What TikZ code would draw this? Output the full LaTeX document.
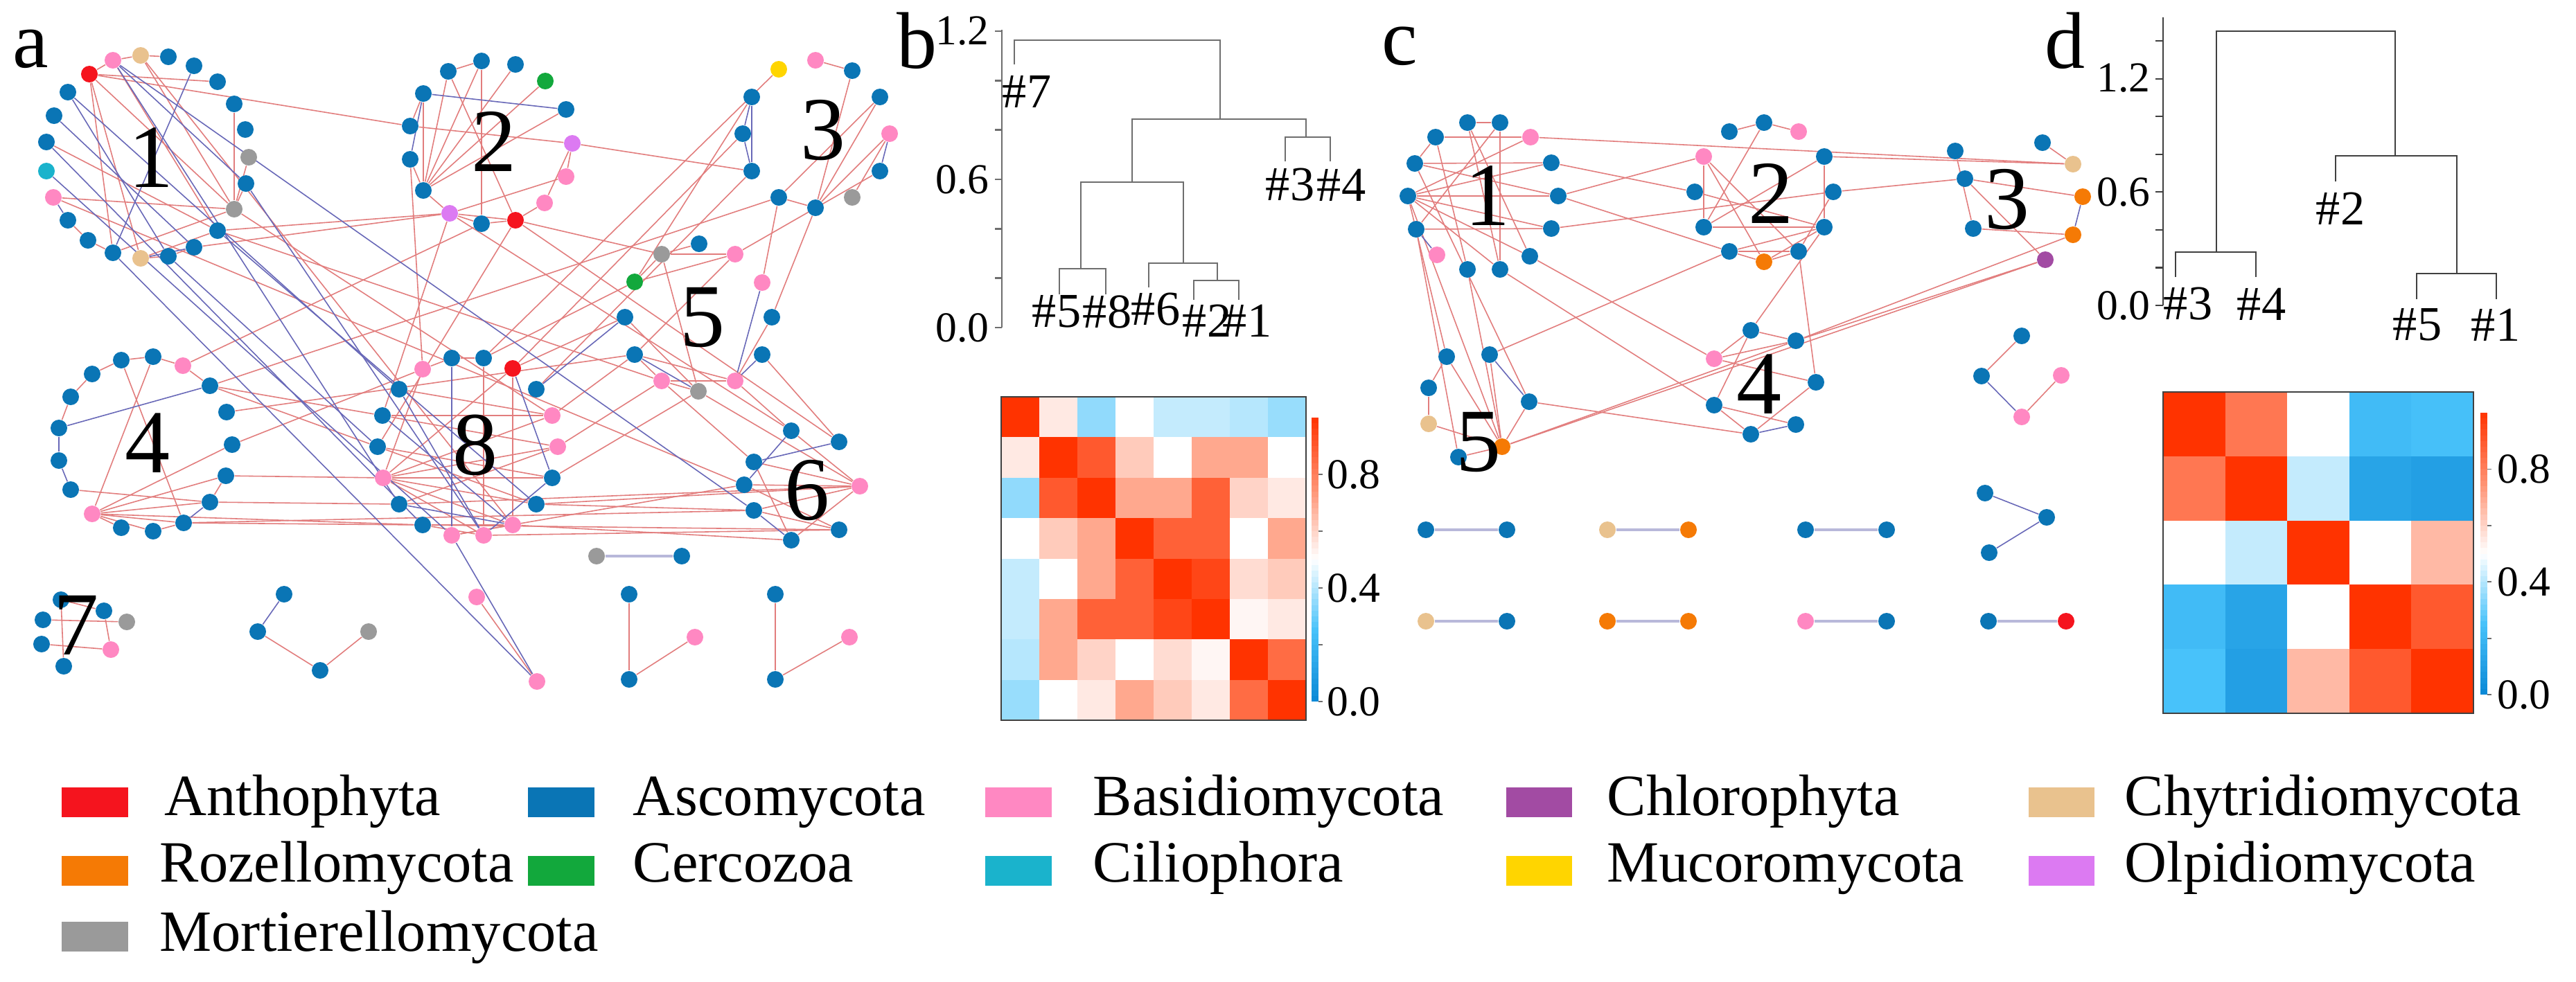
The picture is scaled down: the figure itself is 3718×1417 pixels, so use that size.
\documentclass[tikz,border=0pt]{standalone}
\usepackage{fontspec}
\IfFontExistsTF{LiberationSerif-Regular.ttf}{\setmainfont{LiberationSerif-Regular.ttf}}{}
\usetikzlibrary{backgrounds}
\definecolor{cAnt}{HTML}{F5141E}
\definecolor{cAsc}{HTML}{0A75B5}
\definecolor{cBas}{HTML}{FF88C2}
\definecolor{cChl}{HTML}{A24BA3}
\definecolor{cChy}{HTML}{E9C28E}
\definecolor{cRoz}{HTML}{F57A05}
\definecolor{cCer}{HTML}{12A83C}
\definecolor{cCil}{HTML}{1AB3CC}
\definecolor{cMuc}{HTML}{FFD500}
\definecolor{cOlp}{HTML}{DC7AF2}
\definecolor{cMor}{HTML}{9A9A9A}
\definecolor{epos}{HTML}{E27D7D}
\definecolor{eneg}{HTML}{6868B8}
\definecolor{plink}{HTML}{B8B8DA}
\definecolor{dgray}{HTML}{6E6E6E}
\definecolor{dgrayd}{HTML}{404040}
\definecolor{cbZ}{HTML}{0A88D6}
\definecolor{cbA}{HTML}{48C2FA}
\definecolor{crA}{HTML}{FF9272}
\definecolor{crZ}{HTML}{FF3300}
\newcommand\hmcolor[1]{%
  \pgfmathsetmacro\hmv{#1}%
  \ifdim\hmv pt<0.25pt
    \pgfmathsetmacro\hmp{\hmv/0.25*100}\colorlet{hmc}{cbA!\hmp!cbZ}%
  \else\ifdim\hmv pt<0.5pt
    \pgfmathsetmacro\hmp{(\hmv-0.25)/0.25*100}\colorlet{hmc}{white!\hmp!cbA}%
  \else\ifdim\hmv pt<0.75pt
    \pgfmathsetmacro\hmp{(\hmv-0.5)/0.25*100}\colorlet{hmc}{crA!\hmp!white}%
  \else
    \pgfmathsetmacro\hmp{(\hmv-0.75)/0.25*100}\colorlet{hmc}{crZ!\hmp!crA}%
  \fi\fi\fi}
\newcommand\myfs[1]{\fontsize{#1}{#1}\selectfont}
\begin{document}
\begin{tikzpicture}[x=0.01cm,y=-0.01cm,
  nd/.style={circle,inner sep=0pt,minimum size=0.24cm},
  nAnt/.style={nd,fill=cAnt}, nAsc/.style={nd,fill=cAsc}, nBas/.style={nd,fill=cBas},
  nChl/.style={nd,fill=cChl}, nChy/.style={nd,fill=cChy}, nRoz/.style={nd,fill=cRoz},
  nCer/.style={nd,fill=cCer}, nCil/.style={nd,fill=cCil}, nMuc/.style={nd,fill=cMuc},
  nOlp/.style={nd,fill=cOlp}, nMor/.style={nd,fill=cMor},
  pe/.style={draw=epos,line width=0.45pt},
  ne/.style={draw=eneg,line width=0.45pt},
  pl/.style={draw=plink,line width=1.3pt},
  dg/.style={draw=dgray,line width=0.8pt},
  dgd/.style={draw=dgrayd,line width=0.6pt},
  clab/.style={font=\myfs{37},inner sep=0pt,anchor=base},
  plab/.style={font=\myfs{33},inner sep=0pt,anchor=base},
  dlab/.style={font=\myfs{20},inner sep=0pt},
  axl/.style={font=\myfs{17.5},inner sep=0pt,anchor=east},
  cbl/.style={font=\myfs{17.5},inner sep=0pt,anchor=west},
  lgt/.style={font=\myfs{24},inner sep=0pt,anchor=base west},
  sw/.style={rectangle,inner sep=0pt,minimum width=0.95cm,minimum height=0.43cm}]
\useasboundingbox (0,0) rectangle (3718,1417);

% ---------------- panel a nodes ----------------
\foreach \i/\s/\x/\y in {1/nAnt/129/107,2/nBas/163/87,3/nChy/203/80,4/nAsc/243/82,5/nAsc/280/95,
  6/nAsc/314/118,7/nAsc/338/150,8/nAsc/354/187,9/nMor/359/227,10/nAsc/355/265,11/nMor/338/302,
  12/nAsc/314/333,13/nAsc/280/357,14/nAsc/243/370,15/nChy/203/373,16/nAsc/163/365,17/nAsc/127/347,
  18/nAsc/98/318,19/nBas/77/285,20/nCil/67/247,21/nAsc/67/205,22/nAsc/78/167,23/nAsc/98/133}
  {\node[\s] (a1-\i) at (\x,\y) {};}
\foreach \i/\s/\x/\y in {1/nAsc/611/135,2/nAsc/647/103,3/nAsc/695/88,4/nAsc/744/93,5/nCer/787/117,
  6/nAsc/817/158,7/nOlp/826/207,8/nBas/817/255,9/nBas/786/293,10/nAnt/744/318,11/nAsc/695/323,
  12/nOlp/649/308,13/nAsc/611/275,14/nAsc/592/230,15/nAsc/592/182}
  {\node[\s] (a2-\i) at (\x,\y) {};}
\foreach \i/\s/\x/\y in {1/nMuc/1124/100,2/nBas/1177/87,3/nAsc/1230/102,4/nAsc/1270/140,5/nBas/1284/193,
  6/nAsc/1270/247,7/nMor/1230/285,8/nAsc/1177/300,9/nAsc/1124/285,10/nAsc/1085/247,11/nAsc/1072/193,
  12/nAsc/1085/140}
  {\node[\s] (a3-\i) at (\x,\y) {};}
\foreach \i/\s/\x/\y in {1/nBas/264/528,2/nAsc/221/515,3/nAsc/175/520,4/nAsc/133/540,5/nAsc/102/573,
  6/nAsc/85/618,7/nAsc/85/665,8/nAsc/102/707,9/nBas/133/742,10/nAsc/175/762,11/nAsc/221/767,
  12/nAsc/265/755,13/nAsc/303/725,14/nAsc/326/687,15/nAsc/335/642,16/nAsc/327/595,17/nAsc/303/557}
  {\node[\s] (a4-\i) at (\x,\y) {};}
\foreach \i/\s/\x/\y in {1/nMor/955/367,2/nAsc/1009/352,3/nBas/1061/367,4/nBas/1100/408,5/nAsc/1114/458,
  6/nAsc/1100/512,7/nBas/1061/550,8/nMor/1008/565,9/nBas/955/550,10/nAsc/916/512,11/nAsc/902/458,
  12/nCer/916/407}
  {\node[\s] (a5-\i) at (\x,\y) {};}
\foreach \i/\s/\x/\y in {1/nAsc/1142/622,2/nAsc/1211/638,3/nBas/1241/702,4/nAsc/1211/765,5/nAsc/1142/780,
  6/nAsc/1088/737,7/nAsc/1074/700,8/nAsc/1088/667}
  {\node[\s] (a6-\i) at (\x,\y) {};}
\foreach \i/\s/\x/\y in {1/nBas/610/533,2/nAsc/652/517,3/nAsc/698/517,4/nAnt/740/532,5/nAsc/774/562,
  6/nBas/797/600,7/nBas/805/645,8/nAsc/797/690,9/nAsc/774/728,10/nBas/740/758,11/nBas/698/773,
  12/nBas/652/773,13/nAsc/610/758,14/nAsc/576/728,15/nBas/553/690,16/nAsc/545/645,17/nAsc/552/600,
  18/nAsc/576/562}
  {\node[\s] (a8-\i) at (\x,\y) {};}
\foreach \i/\s/\x/\y in {1/nAsc/88/866,2/nAsc/150/882,3/nMor/183/898,4/nBas/160/938,5/nAsc/92/962,
  6/nAsc/60/930,7/nAsc/62/895}
  {\node[\s] (a7-\i) at (\x,\y) {};}
\node[nMor] (g1) at (861,803) {};
\node[nAsc] (g2) at (984,803) {};
\foreach \i/\s/\x/\y in {1/nAsc/410/858,2/nAsc/372/912,3/nAsc/462/968,4/nMor/532/912}
  {\node[\s] (b1-\i) at (\x,\y) {};}
\node[nBas] (b2-1) at (688,862) {};
\node[nBas] (b2-2) at (775,984) {};
\foreach \i/\s/\x/\y in {1/nAsc/908/858,2/nBas/1003/920,3/nAsc/908/981}
  {\node[\s] (b3-\i) at (\x,\y) {};}
\foreach \i/\s/\x/\y in {1/nAsc/1119/858,2/nBas/1226/920,3/nAsc/1119/981}
  {\node[\s] (b4-\i) at (\x,\y) {};}

% ---------------- panel c nodes ----------------
\foreach \i/\s/\x/\y in {1/nAsc/2072/198,2/nAsc/2118/177,3/nAsc/2165/177,4/nBas/2209/198,5/nAsc/2239/235,
  6/nAsc/2249/283,7/nAsc/2239/330,8/nAsc/2208/370,9/nAsc/2165/389,10/nAsc/2118/389,11/nBas/2074/368,
  12/nAsc/2044/331,13/nAsc/2032/283,14/nAsc/2042/236}
  {\node[\s] (c1-\i) at (\x,\y) {};}
\foreach \i/\s/\x/\y in {1/nAsc/2496/190,2/nAsc/2546/177,3/nBas/2596/190,4/nAsc/2633/226,5/nAsc/2646/277,
  6/nAsc/2633/328,7/nAsc/2596/363,8/nRoz/2546/378,9/nAsc/2496/363,10/nAsc/2459/328,11/nAsc/2446/277,
  12/nBas/2459/226}
  {\node[\s] (c2-\i) at (\x,\y) {};}
\foreach \i/\s/\x/\y in {1/nAsc/2948/206,2/nChy/2992/237,3/nRoz/3006/284,4/nRoz/2992/339,5/nChl/2952/375,
  6/nAsc/2848/330,7/nAsc/2836/258,8/nAsc/2822/218}
  {\node[\s] (c3-\i) at (\x,\y) {};}
\foreach \i/\s/\x/\y in {1/nAsc/2527/477,2/nAsc/2592/492,3/nAsc/2621/552,4/nAsc/2592/613,5/nAsc/2527/627,
  6/nAsc/2474/585,7/nBas/2474/518}
  {\node[\s] (c4-\i) at (\x,\y) {};}
\foreach \i/\s/\x/\y in {1/nAsc/2088/515,2/nAsc/2150/512,3/nAsc/2207/580,4/nRoz/2168/645,5/nAsc/2105/660,
  6/nChy/2062/612,7/nAsc/2062/560}
  {\node[\s] (c5-\i) at (\x,\y) {};}
\foreach \i/\s/\x/\y in {1/nAsc/2058/765,2/nAsc/2175/765,3/nChy/2320/765,4/nRoz/2437/765,
  5/nAsc/2606/765,6/nAsc/2723/765,7/nAsc/2865/712,8/nAsc/2954/747,9/nAsc/2871/798,
  10/nAsc/2918/485,11/nAsc/2860/543,12/nBas/2918/602,13/nBas/2975/542,
  14/nChy/2058/897,15/nAsc/2175/897,16/nRoz/2320/897,17/nRoz/2437/897,
  18/nBas/2606/897,19/nAsc/2723/897,20/nAsc/2870/897,21/nAnt/2982/897}
  {\node[\s] (s\i) at (\x,\y) {};}

% ---------------- edges ----------------
\begin{scope}[on background layer]
\fill[white] (0,0) rectangle (3718,1417);
\foreach \u/\v in {a1-1/a1-2,a1-2/a1-3,a1-3/a1-4,a1-1/a1-11,a1-1/a1-16,a1-1/a1-15,a1-1/a1-6,a1-2/a1-12,
  a1-3/a1-11,a1-7/a1-11,a1-9/a1-11,a1-10/a1-11,a1-19/a1-11,a1-21/a1-12,a1-14/a1-15,a1-16/a1-17,
  a1-17/a1-18,a1-15/a1-12,a1-16/a1-11,a1-13/a1-14,
  a1-1/a2-15,a1-13/a2-12,a1-12/a2-12,a1-19/a6-7,a1-11/a8-6,a1-3/a8-10,a1-12/a5-9,
  a2-13/a2-1,a2-13/a2-2,a2-13/a2-3,a2-13/a2-4,a2-13/a2-5,a2-13/a2-6,a2-13/a2-14,a2-13/a2-12,
  a2-1/a2-15,a2-2/a2-3,a2-2/a2-10,a2-15/a2-7,a2-7/a2-8,a2-7/a2-9,a2-12/a2-8,a2-10/a2-11,
  a2-11/a2-12,a2-10/a2-9,a2-10/a2-12,a2-3/a2-11,
  a2-7/a3-10,a2-10/a5-1,a2-10/a6-2,a2-12/a6-1,a2-10/a8-16,a2-11/a4-1,a2-12/a8-17,
  a3-2/a3-3,a3-3/a3-8,a3-4/a3-9,a3-4/a3-8,a3-5/a3-8,a3-5/a3-7,a3-8/a3-9,
  a3-1/a8-3,a3-11/a8-4,a3-9/a5-4,a3-8/a5-5,a3-10/a8-5,a3-9/a4-17,a3-12/a5-12,a3-6/a5-3,
  a4-2/a4-3,a4-3/a4-4,a4-4/a4-5,a4-5/a4-6,a4-1/a4-17,a4-1/a4-2,a4-3/a4-12,a4-2/a4-9,a4-9/a4-14,
  a4-9/a4-15,a4-9/a4-13,a4-9/a4-12,a4-9/a4-10,a4-8/a4-13,a4-14/a4-13,a4-11/a4-12,a4-9/a4-11,
  a4-17/a8-17,a4-17/a8-16,a4-14/a8-15,a4-13/a8-14,a4-12/a8-13,a4-9/a8-13,a4-12/a6-6,a4-15/a8-1,a4-16/a5-10,
  a8-15/a8-1,a8-15/a8-4,a8-15/a8-6,a8-15/a8-7,a8-15/a8-8,a8-15/a8-9,a8-15/a8-10,a8-15/a8-11,
  a8-17/a8-6,a8-17/a8-7,a8-3/a8-11,a8-4/a8-10,a8-16/a8-9,a8-13/a8-11,a8-12/a8-10,a8-1/a8-2,
  a8-2/a8-3,a8-14/a8-7,a8-18/a8-6,a8-16/a8-8,a8-13/a8-10,
  a8-6/a5-10,a8-7/a5-9,a8-8/a5-8,a8-9/a6-6,a8-10/a6-5,a8-11/a6-4,a8-12/a6-7,a8-9/a6-3,a8-14/a6-3,
  a8-13/a6-4,a8-4/a5-11,a8-3/a5-12,a8-1/a2-14,
  a5-1/a5-2,a5-1/a5-3,a5-1/a5-12,a5-1/a5-8,a5-12/a5-3,a5-10/a5-7,a5-9/a5-7,a5-9/a5-8,a5-7/a5-5,
  a5-10/a5-9,a5-11/a5-8,a5-3/a5-10,a5-7/a6-1,a5-6/a6-2,a5-9/a6-8,a5-8/a6-3,
  a6-3/a6-6,a6-3/a6-7,a6-3/a6-8,a6-1/a6-3,a6-4/a6-7,a6-5/a6-8,a6-3/a6-5,a6-4/a6-6,
  a7-1/a7-2,a7-1/a7-5,a7-2/a7-4,a7-6/a7-4,a7-7/a7-3,
  b1-2/b1-3,b1-3/b1-4,b2-1/b2-2,b3-1/b3-3,b3-2/b3-3,b4-1/b4-3,b4-2/b4-3}
  {\draw[pe] (\u) -- (\v);}
\foreach \u/\v in {a1-5/a1-16,a1-23/a1-14,a1-22/a1-13,a1-2/a1-10,a1-18/a1-19,a1-15/a1-13,
  a1-2/a8-14,a1-20/a8-12,a1-10/a8-11,a1-21/a8-13,a1-16/b2-2,a1-14/a8-16,a1-2/a6-6,a1-23/a8-18,a1-12/a8-9,
  a2-1/a2-6,a2-1/a2-14,a3-5/a3-6,a3-11/a3-12,a3-12/a3-10,a3-11/a3-10,
  a4-17/a4-6,a4-7/a4-8,a4-6/a4-7,a4-12/a4-13,
  a8-4/a8-8,a8-2/a8-12,a8-18/a8-11,a8-8/a8-11,a8-17/a8-10,a8-14/a8-10,a8-12/b2-2,a8-5/a5-11,
  a5-7/a5-4,a5-10/a5-8,a5-6/a5-7,a6-2/a6-8,a6-5/a6-6,a6-1/a6-7,b1-1/b1-2}
  {\draw[ne] (\u) -- (\v);}
\draw[pl] (g1) -- (g2);
% panel c
\foreach \u/\v in {c1-1/c1-14,c1-2/c1-3,c1-1/c1-4,c1-2/c1-9,c1-3/c1-9,c1-2/c1-8,c1-13/c1-5,c1-13/c1-6,
  c1-13/c1-7,c1-13/c1-8,c1-13/c1-9,c1-14/c1-6,c1-12/c1-7,c1-1/c1-10,c1-3/c1-12,c1-13/c1-4,c1-14/c1-5,
  c1-4/c3-2,c1-6/c2-12,c1-6/c2-9,c1-7/c2-5,c1-8/c4-7,c1-13/c5-1,c1-13/c5-4,c1-12/c5-5,c1-14/c5-3,
  c1-10/c5-4,c1-5/c2-11,c1-9/c4-6,
  c2-1/c2-2,c2-2/c2-3,c2-2/c2-10,c2-12/c2-10,c2-12/c2-7,c2-12/c2-8,c2-11/c2-6,c2-10/c2-6,c2-9/c2-6,
  c2-8/c2-6,c2-9/c2-7,c2-8/c2-7,c2-7/c2-5,c2-6/c2-4,c2-9/c2-8,c2-10/c2-4,
  c2-7/c4-3,c2-9/c5-2,c2-4/c3-2,c2-5/c3-7,c2-6/c4-1,
  c3-1/c3-2,c3-8/c3-6,c3-4/c3-6,c3-3/c3-7,c3-5/c3-7,c3-5/c4-2,c3-4/c4-2,c5-4/c3-5,
  c4-1/c4-2,c4-1/c4-7,c4-1/c4-6,c4-6/c4-4,c4-6/c4-5,c4-5/c4-3,c4-7/c4-3,c4-2/c4-7,c4-5/c5-3,c4-2/c5-4,
  c5-1/c5-7,c5-7/c5-6,c5-6/c5-4,c5-1/c5-4,c5-2/c5-4,c5-3/c5-4,c5-5/c5-4,
  s10/s11,s12/s13}
  {\draw[pe] (\u) -- (\v);}
\foreach \u/\v in {c1-12/c1-11,c3-3/c3-4,c4-5/c4-4,c5-2/c5-3,s11/s12,s7/s8,s9/s8}
  {\draw[ne] (\u) -- (\v);}
\foreach \u/\v in {s1/s2,s3/s4,s5/s6,s14/s15,s16/s17,s18/s19,s20/s21}
  {\draw[pl] (\u) -- (\v);}
\end{scope}

% ---------------- labels ----------------
\node[plab] (la) at (44,97) {a};
\node[plab] (lb) at (1323,98) {b};
\node[plab] (lc) at (2020,93) {c};
\node[plab] (ld) at (2980,98) {d};
\node[clab] (k1) at (218,270) {1};
\node[clab] (k2) at (713,247) {2};
\node[clab] (k3) at (1188,230) {3};
\node[clab] (k4) at (213,682) {4};
\node[clab] (k5) at (1014,500) {5};
\node[clab] (k6) at (1165,750) {6};
\node[clab] (k7) at (110,945) {7};
\node[clab] (k8) at (686,685) {8};
\node[clab] (q1) at (2147,325) {1};
\node[clab] (q2) at (2556,322) {2};
\node[clab] (q3) at (2897,330) {3};
\node[clab] (q4) at (2539,597) {4};
\node[clab] (q5) at (2134,680) {5};

% ---------------- panel b dendrogram ----------------
\draw[dg] (1446,43) -- (1446,473);
\foreach \k in {0,...,6} \draw[dg] (1436,{473-\k*71.33}) -- (1446,{473-\k*71.33});
\node[axl] at (1428,45) {1.2};
\node[axl] at (1428,259) {0.6};
\node[axl] at (1428,473) {0.0};
\draw[dg] (1464,93) -- (1464,58) -- (1761,58) -- (1761,172);
\draw[dg] (1634,263) -- (1634,172) -- (1885,172) -- (1885,198);
\draw[dg] (1855,233) -- (1855,198) -- (1920,198) -- (1920,233);
\draw[dg] (1560,388) -- (1560,263) -- (1708,263) -- (1708,380);
\draw[dg] (1529,425) -- (1529,388) -- (1596,388) -- (1596,425);
\draw[dg] (1658,415) -- (1658,380) -- (1757,380) -- (1757,405);
\draw[dg] (1723,433) -- (1723,405) -- (1788,405) -- (1788,433);
\node[dlab] at (1482,132) {\#7};
\node[dlab] at (1862,267) {\#3};
\node[dlab] at (1936,267) {\#4};
\node[dlab] at (1525,450) {\#5};
\node[dlab] at (1598,450) {\#8};
\node[dlab] at (1668,447) {\#6};
\node[dlab] at (1742,463) {\#2};
\node[dlab] at (1800,463) {\#1};

% ---------------- panel b heatmap ----------------
\foreach \row [count=\r from 0] in {{1,.55,.35,.5,.42,.42,.4,.36},{.55,1,.9,.62,.5,.7,.7,.5},
  {.35,.9,1,.7,.7,.88,.6,.55},{.5,.62,.7,1,.88,.88,.5,.7},{.42,.5,.7,.88,1,.95,.58,.62},
  {.42,.7,.88,.88,.95,1,.52,.55},{.4,.7,.6,.5,.58,.52,1,.85},{.36,.5,.55,.7,.62,.55,.85,1}}
  {\foreach \v [count=\c from 0] in \row
    {\hmcolor{\v}\fill[hmc] ({1445+\c*55},{573+\r*58.4}) rectangle ++(55.2,58.6);}}
\draw[dgrayd,line width=0.6pt] (1445,573) rectangle (1885,1040);
\foreach \k in {0,...,49}
  {\hmcolor{(\k+0.5)/50}\fill[hmc] (1893,{1013-\k*8.2}) rectangle (1903,{1013-(\k+1)*8.2-0.5});}
\foreach \k in {0,...,4} \draw[dgray,line width=0.5pt] (1903,{1013-\k*82}) -- (1909,{1013-\k*82});
\node[cbl] at (1915,685) {0.8};
\node[cbl] at (1915,849) {0.4};
\node[cbl] at (1915,1013) {0.0};

% ---------------- panel d dendrogram ----------------
\draw[dgd] (3122,25) -- (3122,441);
\foreach \k in {0,...,7} \draw[dgd] (3111,{441-\k*54.57}) -- (3122,{441-\k*54.57});
\node[axl] at (3104,113) {1.2};
\node[axl] at (3104,277) {0.6};
\node[axl] at (3104,441) {0.0};
\draw[dgd] (3199,364) -- (3199,45) -- (3457,45) -- (3457,225);
\draw[dgd] (3140,400) -- (3140,364) -- (3256,364) -- (3256,400);
\draw[dgd] (3371,262) -- (3371,225) -- (3546,225) -- (3546,395);
\draw[dgd] (3488,432) -- (3488,395) -- (3603,395) -- (3603,432);
\node[dlab] at (3158,439) {\#3};
\node[dlab] at (3264,439) {\#4};
\node[dlab] at (3378,301) {\#2};
\node[dlab] at (3489,469) {\#5};
\node[dlab] at (3602,469) {\#1};

% ---------------- panel d heatmap ----------------
\foreach \row [count=\r from 0] in {{1,.82,.5,.22,.24},{.82,1,.42,.12,.1},{.5,.42,1,.5,.66},
  {.22,.12,.5,1,.9},{.25,.1,.66,.9,1}}
  {\foreach \v [count=\c from 0] in \row
    {\hmcolor{\v}\fill[hmc] ({3122+\c*89.6},{566+\r*92.8}) rectangle ++(89.8,93);}}
\draw[dgrayd,line width=0.6pt] (3122,566) rectangle (3570,1030);
\foreach \k in {0,...,49}
  {\hmcolor{(\k+0.5)/50}\fill[hmc] (3580,{1003-\k*8.14}) rectangle (3590,{1003-(\k+1)*8.14-0.5});}
\foreach \k in {0,...,4} \draw[dgray,line width=0.5pt] (3590,{1003-\k*81.4}) -- (3596,{1003-\k*81.4});
\node[cbl] at (3604,677) {0.8};
\node[cbl] at (3604,840) {0.4};
\node[cbl] at (3604,1003) {0.0};

% ---------------- legend ----------------
\foreach \n/\c/\t/\sx/\tx/\sy/\by in {
  1/cAnt/Anthophyta/90/237/1158/1177, 2/cAsc/Ascomycota/763/913/1158/1177,
  3/cBas/Basidiomycota/1423/1577/1158/1177, 4/cChl/Chlorophyta/2174/2319/1158/1177,
  5/cChy/Chytridiomycota/2928/3066/1158/1177,
  6/cRoz/Rozellomycota/90/230/1257/1273, 7/cCer/Cercozoa/763/913/1257/1273,
  8/cCil/Ciliophora/1423/1577/1257/1273, 9/cMuc/Mucoromycota/2174/2319/1257/1273,
  10/cOlp/Olpidiomycota/2928/3066/1257/1273,
  11/cMor/Mortierellomycota/90/230/1352/1373}
  {\node[sw,fill=\c] (sw\n) at ({\sx+47},\sy) {};
   \node[lgt] (lt\n) at (\tx,\by) {\t};}
\end{tikzpicture}
\end{document}
